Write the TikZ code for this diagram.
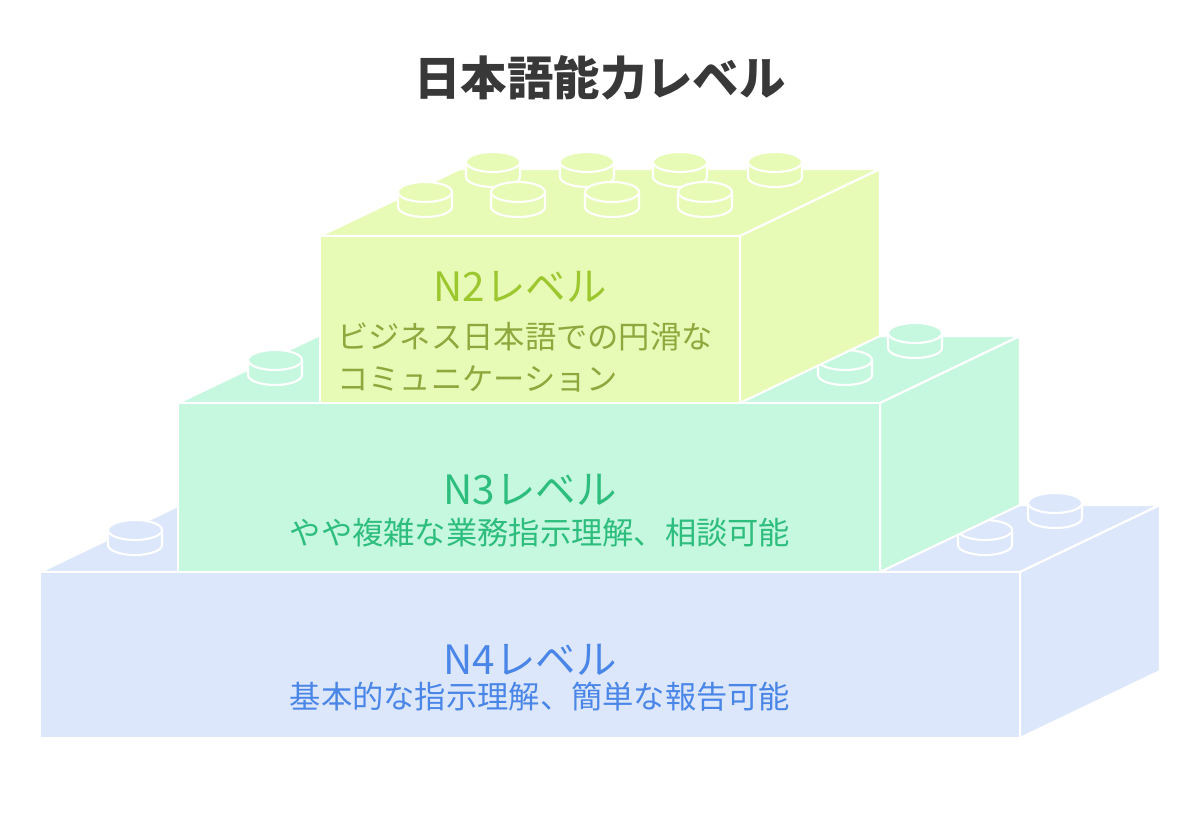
\documentclass[tikz,border=0pt]{standalone}
\usepackage{fontspec}
\setmainfont{Noto Sans CJK JP}
\definecolor{fourfill}{HTML}{DCE7FB}
\definecolor{fourtext}{HTML}{4A86E8}
\definecolor{threefill}{HTML}{C6F7DF}
\definecolor{threetext}{HTML}{2DBE7E}
\definecolor{twofill}{HTML}{E8FBB6}
\definecolor{twotext}{HTML}{9CC72E}
\definecolor{twodesc}{HTML}{8FA83E}
\tikzset{
    brickline/.style={draw=white, line width=1.2pt, line join=round},
    title/.style={font=\bfseries\fontsize{26.4}{30}\selectfont, text=black!78},
    level/.style={font=\fontsize{23}{27}\selectfont},
    desc/.style={font=\fontsize{17.8}{24}\selectfont, align=left}
}
% brick: x1, y1, x2, y2, fill
\newcommand{\brick}[5]{
    \filldraw[brickline, fill=#5] (#1,#2) -- ++(140,-67) -- ($(#3,#2)+(140,-67)$) -- (#3,#2) -- cycle;
    \filldraw[brickline, fill=#5] (#3,#2) -- ++(140,-67) -- ($(#3,#4)+(140,-67)$) -- (#3,#4) -- cycle;
    \filldraw[brickline, fill=#5] (#1,#2) rectangle (#3,#4);
}
% stud: x, y (top centre), fill
\newcommand{\stud}[3]{
    \fill[#3] (#1-27,#2) rectangle (#1+27,#2+15);
    \filldraw[brickline, fill=#3] (#1-27,#2) -- (#1-27,#2+15) arc (180:0:27 and 10) -- (#1+27,#2);
    \filldraw[brickline, fill=#3] (#1,#2) ellipse (27 and 10);
}
\usetikzlibrary{calc}
\begin{document}
\begin{tikzpicture}[x=0.02cm, y=-0.02cm]
    \useasboundingbox (0,0) rectangle (1200,817);
    \node[title] (ttl) at (600,78) {日本語能力レベル};

    % N4
    \brick{40}{572}{1020}{738}{fourfill}
    \stud{135}{530}{fourfill}
    \stud{1055}{503}{fourfill}
    \stud{985}{530}{fourfill}

    % N3
    \brick{178}{403}{880}{572}{threefill}
    \stud{275}{360}{threefill}
    \stud{915}{333}{threefill}
    \stud{845}{360}{threefill}

    % N2
    \brick{320}{236}{740}{403}{twofill}
    \foreach \sx in {493,587,680,775} {\stud{\sx}{162}{twofill}}
    \foreach \sx in {425,518,612,705} {\stud{\sx}{192}{twofill}}

    \node[level, text=twotext] (n2) at (520,287) {N2レベル};
    \node[desc, text=twodesc] (n2d) at (525,357) {ビジネス日本語での円滑な\\コミュニケーション};
    \node[level, text=threetext] (n3) at (530,490) {N3レベル};
    \node[desc, text=threetext] (n3d) at (540,533) {やや複雑な業務指示理解、相談可能};
    \node[level, text=fourtext] (n4) at (530,660) {N4レベル};
    \node[desc, text=fourtext] (n4d) at (540,697) {基本的な指示理解、簡単な報告可能};
\end{tikzpicture}
\end{document}
